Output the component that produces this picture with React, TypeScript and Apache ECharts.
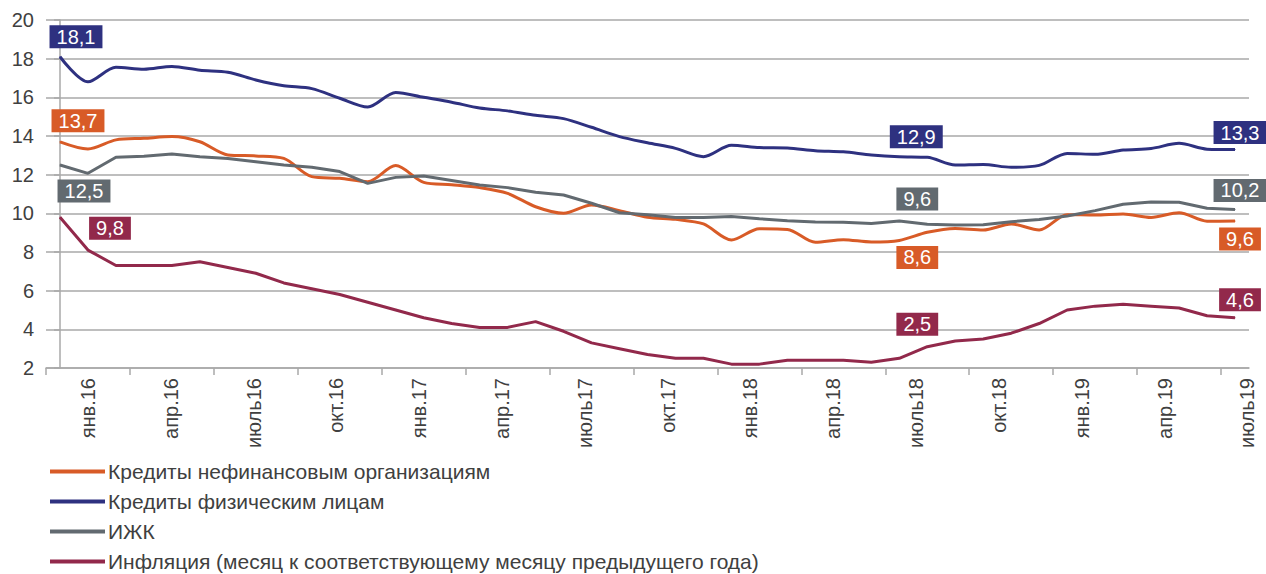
import React, { useEffect, useRef } from "react";
import * as echarts from "echarts";

// Monthly observations, январь 2016 – июль 2019 (43 months)
const months = [
  "янв.16", "фев.16", "мар.16", "апр.16", "май.16", "июнь16", "июль16", "авг.16", "сен.16", "окт.16", "ноя.16", "дек.16",
  "янв.17", "фев.17", "мар.17", "апр.17", "май.17", "июнь17", "июль17", "авг.17", "сен.17", "окт.17", "ноя.17", "дек.17",
  "янв.18", "фев.18", "мар.18", "апр.18", "май.18", "июнь18", "июль18", "авг.18", "сен.18", "окт.18", "ноя.18", "дек.18",
  "янв.19", "фев.19", "мар.19", "апр.19", "май.19", "июнь19", "июль19",
];

const tickLabels = [
  "янв.16", "апр.16", "июль16", "окт.16", "янв.17", "апр.17", "июль17", "окт.17",
  "янв.18", "апр.18", "июль18", "окт.18", "янв.19", "апр.19", "июль19",
];

const yTicks = [2, 4, 6, 8, 10, 12, 14, 16, 18, 20];

const corporate = [
  13.7, 13.33, 13.8, 13.88, 13.97, 13.7, 13.02, 12.97, 12.84, 11.9, 11.81, 11.64,
  12.47, 11.6, 11.48, 11.33, 11.03, 10.34, 10.0, 10.43, 10.14, 9.8, 9.69, 9.45,
  8.62, 9.2, 9.17, 8.5, 8.64, 8.52, 8.6, 9.02, 9.22, 9.14, 9.45, 9.14,
  9.93, 9.91, 9.97, 9.79, 10.03, 9.59, 9.6,
];

const retail = [
  18.1, 16.8, 17.55, 17.45, 17.6, 17.4, 17.3, 16.9, 16.6, 16.45, 15.95, 15.5,
  16.25, 16.0, 15.75, 15.45, 15.3, 15.07, 14.9, 14.45, 13.97, 13.65, 13.36, 12.93,
  13.52, 13.4, 13.38, 13.24, 13.18, 13.02, 12.93, 12.9, 12.5, 12.53, 12.38, 12.48,
  13.1, 13.05, 13.27, 13.35, 13.62, 13.32, 13.3,
];

const mortgage = [
  12.5, 12.07, 12.9, 12.95, 13.07, 12.93, 12.84, 12.67, 12.5, 12.38, 12.16, 11.55,
  11.86, 11.93, 11.7, 11.47, 11.33, 11.09, 10.95, 10.52, 10.03, 9.93, 9.79, 9.78,
  9.83, 9.72, 9.62, 9.55, 9.54, 9.48, 9.6, 9.43, 9.4, 9.41, 9.57, 9.68,
  9.86, 10.14, 10.47, 10.59, 10.57, 10.26, 10.2,
];

const inflation = [
  9.8, 8.1, 7.3, 7.3, 7.3, 7.5, 7.2, 6.9, 6.4, 6.1, 5.8, 5.4,
  5.0, 4.6, 4.3, 4.1, 4.1, 4.4, 3.9, 3.3, 3.0, 2.7, 2.5, 2.5,
  2.2, 2.2, 2.4, 2.4, 2.4, 2.3, 2.5, 3.1, 3.4, 3.5, 3.8, 4.3,
  5.0, 5.2, 5.3, 5.2, 5.1, 4.7, 4.6,
];

const labelIndexes = [0, 30, 42];

const seriesNames = [
  "Кредиты нефинансовым организациям",
  "Кредиты физическим лицам",
  "ИЖК",
  "Инфляция (месяц к соответствующему месяцу предыдущего года)",
];

const seriesValues = [corporate, retail, mortgage, inflation];
const colors = ["#D85B27", "#2E3180", "#626A70", "#92294B"];
const smoothing = [0.3, 0.3, 0, 0];
const labelOffsets = [
  [[18, -21], [18, 17], [5, 18]],
  [[16, -20], [17, -20], [5, -17]],
  [[24, 26], [18, -22], [5, -19]],
  [[50, 11], [18, -34], [5, -18]],
];

const FONT = "'Liberation Sans', Arial, sans-serif";
const TEXT = "#404040";
const GRID = "#a9a9a9";
const LABEL_STEP = 2.96;

export default function App() {
  const ref = useRef<HTMLDivElement>(null);

  useEffect(() => {
    if (!ref.current) return;
    const chart = echarts.init(ref.current, null, { renderer: "svg" });

    const series = seriesValues.map((vals, si) => ({
      name: seriesNames[si],
      type: "line",
      smooth: smoothing[si],
      symbol: "circle",
      symbolSize: 1,
      showSymbol: true,
      color: colors[si],
      itemStyle: { color: colors[si] },
      lineStyle: { width: 3, color: colors[si] },
      label: {
        show: false,
        position: "inside",
        color: "#fff",
        backgroundColor: colors[si],
        fontSize: 20,
        fontFamily: FONT,
        lineHeight: 20,
        padding: [2, 7, 1, 7],
        formatter: (p: any) => Number(p.value[1]).toFixed(1).replace(".", ","),
      },
      data: vals.map((v, i) => {
        const li = labelIndexes.indexOf(i);
        if (li < 0) return { name: months[i], value: [i, v] };
        return {
          name: months[i],
          value: [i, v],
          label: { show: true, offset: labelOffsets[si][li] },
        };
      }),
    }));

    chart.setOption({
      animation: false,
      grid: { left: 46, right: 17, top: 20, bottom: 206, containLabel: false },
      legend: {
        orient: "vertical",
        left: 50,
        top: 461,
        height: 140,
        padding: 0,
        icon: "rect",
        itemWidth: 55,
        itemHeight: 4,
        itemGap: 9,
        data: seriesNames,
        textStyle: { fontSize: 21, color: TEXT, fontFamily: FONT, padding: [0, 0, 0, -2] },
      },
      xAxis: {
        type: "value",
        min: -0.5,
        max: 42.5,
        axisLine: { show: true, lineStyle: { color: GRID, width: 1.5 } },
        axisTick: {
          show: true,
          length: 7,
          lineStyle: { color: GRID, width: 1.5 },
          customValues: tickLabels.map((_, k) => -0.5 + 3 * k),
        },
        splitLine: { show: false },
        axisLabel: {
          rotate: 90,
          margin: 10,
          fontSize: 20,
          color: TEXT,
          fontFamily: FONT,
          customValues: tickLabels.map((_, k) => 1 + LABEL_STEP * k),
          formatter: (v: number) => tickLabels[Math.round((v - 1) / LABEL_STEP)] ?? "",
        },
      },
      yAxis: {
        type: "value",
        min: yTicks[0],
        max: yTicks[yTicks.length - 1],
        interval: 2,
        axisLine: { show: true, lineStyle: { color: GRID, width: 1.5 } },
        axisTick: { show: true, length: 6, lineStyle: { color: GRID, width: 1.5 } },
        splitLine: { show: true, lineStyle: { color: GRID, width: 1.5 } },
        axisLabel: { margin: 12, fontSize: 20, color: TEXT, fontFamily: FONT },
      },
      series,
    });

    return () => chart.dispose();
  }, []);

  return (
    <div
      ref={ref}
      style={{ position: "fixed", left: 0, top: 0, width: 1266, height: 574, background: "#fff" }}
    />
  );
}
